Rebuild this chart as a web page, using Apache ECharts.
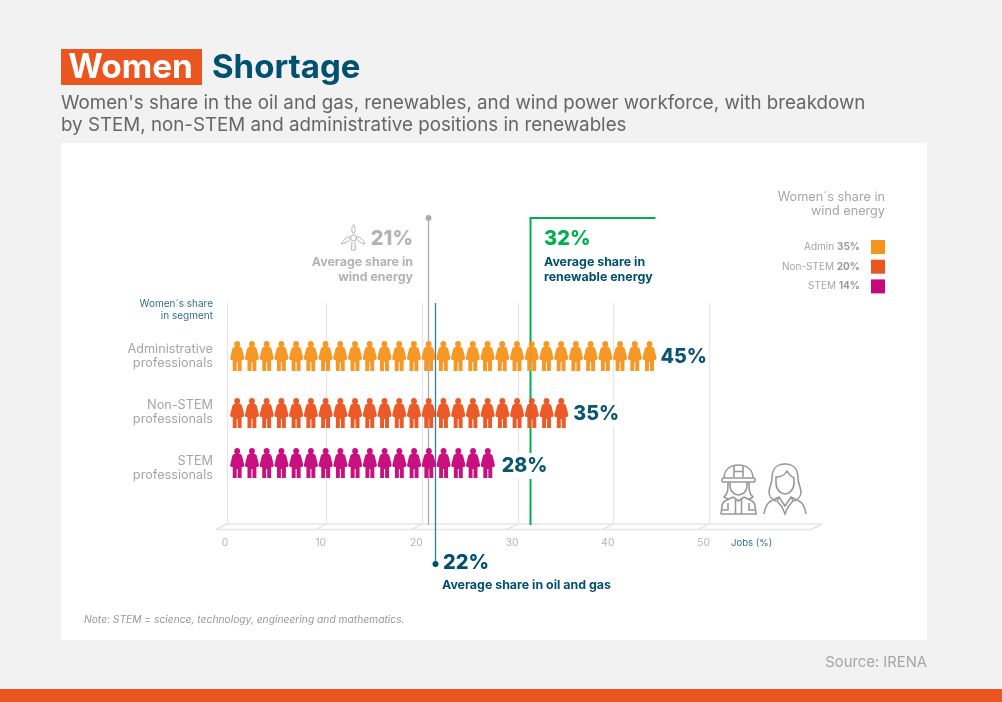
<!DOCTYPE html>
<html>
<head>
<meta charset="utf-8">
<title>Women Shortage</title>
<style>
  html, body { margin: 0; padding: 0; background: #f2f2f2; }
  #container { width: 1002px; height: 702px; }
</style>
<script src="https://cdn.jsdelivr.net/npm/echarts@6/dist/echarts.min.js"></script>
</head>
<body>
<div id="container"></div>
<script>
var categories = ['Administrative\nprofessionals', 'Non-STEM\nprofessionals', 'STEM\nprofessionals'];
var segmentShare = [45, 35, 28];
var figureCount = [29, 23, 18];
var xTicks = [0, 10, 20, 30, 40, 50];

var windAverage = 21;
var oilGasAverage = 22;
var renewableAverage = 32;

var windLabels = ['Admin', 'Non-STEM', 'STEM'];
var windShare = [35, 20, 14];

var BLUE = '#00506f', ORANGE = '#ea5520', AMBER = '#f7941e', MAGENTA = '#c6097a';
var GREEN = '#00b050', GREY = '#b3b3b3', WALL = '#e6e6e6';
var FONT = 'Inter, "Noto Sans", sans-serif';
var rowColors = [AMBER, ORANGE, MAGENTA];
var figureStep = 14.7 / 9.57; // one figure in axis units
var wallStops = [-0.42, 10, 20, 30, 40, 50, 61.8];

var myChart = echarts.init(document.getElementById('container'));

var figure = 'path://M14 0C17.5 0 20 2.6 20 6C20 8.6 19 10.4 17.5 11.6C21.5 12 23 13.5 24 16.5L28 33C28.5 36 27.5 38 25.5 38' +
  'L23 38L23 60L15 60L15 42L13 42L13 60L5 60L5 38L2.5 38C0.5 38 -0.5 36 0 33L4 16.5C5 13.5 6.5 12 10.5 11.6' +
  'C9 10.4 8 8.6 8 6C8 2.6 10.5 0 14 0Z';

function text(str, x, y, size, color, weight, align, extra) {
  var style = {
    text: str, x: x, y: y, fill: color,
    font: (extra && extra.italic ? 'italic ' : '') + (weight || 400) + ' ' + size + 'px ' + FONT,
    textAlign: align || 'left', textVerticalAlign: 'middle'
  };
  return {type: 'text', silent: true, z: 20, style: style};
}

var graphics = [
  {type: 'rect', silent: true, z: -10, shape: {x: 61, y: 143, width: 866, height: 497}, style: {fill: '#fff'}},
  {type: 'rect', silent: true, z: -10, shape: {x: 0, y: 689, width: 1002, height: 13}, style: {fill: ORANGE}},
  {type: 'rect', silent: true, z: -10, shape: {x: 61, y: 49, width: 141, height: 36}, style: {fill: ORANGE}},
  text('Women', 130.5, 68, 33.4, '#fff', 700, 'center'),
  text('Shortage', 212, 68, 33, BLUE, 700),
  text("Women's share in the oil and gas, renewables, and wind power workforce, with breakdown", 61, 103.5, 18.75, '#666'),
  text('by STEM, non-STEM and administrative positions in renewables', 61, 125, 18.75, '#666'),
  text(windAverage + '%', 413, 239, 20, GREY, 800, 'right'),
  text('Average share in', 413, 262, 12.4, GREY, 700, 'right'),
  text('wind energy', 413, 277, 12.4, GREY, 700, 'right'),
  text(renewableAverage + '%', 544, 239, 20, GREEN, 800),
  text('Average share in', 544, 262, 12.4, BLUE, 700),
  text('renewable energy', 544, 277, 12.4, BLUE, 700),
  text(oilGasAverage + '%', 443, 563, 20, BLUE, 800),
  text('Average share in oil and gas', 442, 585, 12.4, BLUE, 700),
  text('Women´s share', 213, 304, 10, '#33708c', 400, 'right'),
  text('in segment', 213, 315.5, 10, '#33708c', 400, 'right'),
  text('Jobs (%)', 731, 543, 9.6, '#33708c'),
  text('Women´s share in', 885, 197, 12.7, '#a6a6a6', 400, 'right'),
  text('wind energy', 885, 211.5, 12.7, '#a6a6a6', 400, 'right'),
  text('Note: STEM = science, technology, engineering and mathematics.', 84, 620, 10.25, '#999', 400, 'left', {italic: true}),
  text('Source: IRENA', 927, 662.5, 14.8, '#a6a6a6', 400, 'right')
];

windLabels.forEach(function (name, i) {
  var y = 247 + i * 19.7;
  graphics.push({
    type: 'text', silent: true, z: 20,
    style: {
      text: '{a|' + name + ' }{b|' + windShare[i] + '%}', x: 860, y: y,
      textAlign: 'right', textVerticalAlign: 'middle',
      rich: {
        a: {fontFamily: FONT, fontSize: 10, fill: '#a6a6a6', fontWeight: 400},
        b: {fontFamily: FONT, fontSize: 10, fill: '#999', fontWeight: 700}
      }
    }
  });
  graphics.push({type: 'rect', silent: true, z: 20, shape: {x: 871, y: y - 7, width: 14, height: 14}, style: {fill: rowColors[i]}});
});

// line from the axis position of an average, px nudge follows the printed artwork
function averageLine(value, color, top, bottom, nudge, dot, dotY, corner) {
  return {
    type: 'custom', xAxisIndex: 0, yAxisIndex: 0, z: 3, silent: true, clip: false,
    data: [[value, 0]],
    renderItem: function (params, api) {
      var x = Math.round(api.coord([api.value(0), 0])[0] + nudge) + 0.5;
      var kids = [];
      var pts = [[x, bottom], [x, top]];
      if (corner) pts.push([x + corner, top]);
      kids.push({type: 'polyline', shape: {points: pts}, style: {stroke: color, fill: null, lineWidth: corner ? 2 : 1.3}});
      if (dot) kids.push({type: 'circle', shape: {cx: x, cy: dotY, r: 3}, style: {fill: dot}});
      return {type: 'group', children: kids};
    }
  };
}

var iconPaths = [
  // worker
  {x: 720, y: 464, w: 1.6, c: '#999', d: 'M4 14C4 6 10 1 18.5 1C27 1 33 6 33 14M2.5 18Q0.5 14 4 14L33 14Q36.5 14 34.5 18ZM14 2V13M23 2V13M14 7.5H23' +
    'M10 18V22C10 27 14 31 18.5 31C23 31 27 27 27 22V18M8 18C8 25 8 30 4 33C6 35 9 35 12 34M29 18C29 25 29 30 33 33C31 35 28 35 25 34' +
    'M13 33L5 37Q2 39 2 42L1 50H36L35 42Q35 39 32 37L24 33M1 46H8V39M36 46H29V39M15.5 35V50M21.5 35V50M13 33L18.5 37L24 33'},
  // woman
  {x: 763, y: 463, w: 1.6, c: '#999', d: 'M22 1C12 1 9 8 9 15C9 21 6 24 6 29C6 34 10 37 13 38M22 1C32 1 35 8 35 15C35 21 38 24 38 29C38 34 34 37 31 38' +
    'M13 14C17 14 22 12 24 8C26 12 29 14 31 15V20C31 27 26 31 22 31C18 31 13 27 13 20ZM1 51C2 44 4 40 8 38L16 34L22 43L28 34L36 38C40 40 42 44 43 51' +
    'M16 34L14 38L19 44L22 51L25 44L30 38L28 34'},
  // turbine
  {x: 341, y: 224, w: 1, c: GREY, d: 'M12.5 10C10 8 10.5 3 12.5 0.5C14.5 3 15 8 12.5 10ZM9.5 15C7 18 3 19.5 0.5 20C1.5 17 5 12.5 9.5 13ZM15.5 15C18 18 21 19.5 24 20C23 17 20 12.5 15.5 13Z' +
    'M9.5 14A3 3 0 1 0 15.5 14A3 3 0 1 0 9.5 14ZM11 18L10.5 26H14.5L14 18'}
];

var series = [
  // floor of the chart, starts from the wall ticks
  {
    type: 'custom', xAxisIndex: 1, yAxisIndex: 1, z: 1, silent: true, clip: false,
    data: wallStops.map(function (v) { return [v, 0]; }),
    renderItem: function (params, api) {
      var p = api.coord([api.value(0), 0]);
      var next = params.dataIndex < wallStops.length - 1 ? api.coord([wallStops[params.dataIndex + 1], 0]) : null;
      var style = {stroke: WALL, lineWidth: 1.5, fill: null};
      var kids = [{type: 'line', shape: {x1: p[0], y1: p[1], x2: p[0] - 11, y2: p[1] + 5.5}, style: style}];
      if (next) kids.push({type: 'line', shape: {x1: p[0] - 11, y1: p[1] + 5.5, x2: next[0] - 11, y2: next[1] + 5.5}, style: style});
      return {type: 'group', children: kids};
    }
  },
  averageLine(windAverage, '#adadad', 218, 525, 2, '#adadad', 218),
  averageLine(oilGasAverage, '#2f7ea3', 303, 564, -1, BLUE, 564),
  averageLine(renewableAverage, GREEN, 218, 525, -1, null, 0, 125),
  {
    type: 'pictorialBar', xAxisIndex: 0, yAxisIndex: 0, z: 5, silent: true,
    symbol: figure, symbolSize: [14, 30], symbolPosition: 'start',
    data: segmentShare.map(function (v, i) {
      return {
        value: v,
        symbolRepeat: figureCount[i],
        symbolBoundingData: figureCount[i] * figureStep,
        symbolOffset: [5.2, [-0.5, 0.5, -5.5][i]],
        itemStyle: {color: rowColors[i], opacity: 0.97},
        label: {
          show: true, position: 'right', formatter: '{c}%',
          distance: [4, 5, 7][i], offset: [0, [0.5, 1.5, -2.5][i]],
          fontFamily: FONT, fontSize: 19.6, fontWeight: 800, color: BLUE,
          backgroundColor: '#fff', padding: [3, 0]
        }
      };
    })
  },
  {
    type: 'custom', xAxisIndex: 1, yAxisIndex: 1, z: 6, silent: true, clip: false,
    data: [[0, 0]],
    renderItem: function () {
      return {
        type: 'group',
        children: iconPaths.map(function (ic) {
          return {type: 'path', x: ic.x, y: ic.y, shape: {pathData: ic.d}, style: {fill: null, stroke: ic.c, lineWidth: ic.w}};
        })
      };
    }
  }
];

var option = {
  backgroundColor: '#f2f2f2',
  animation: false,
  textStyle: {fontFamily: FONT},
  graphic: {elements: graphics},
  grid: [
    {left: 225, width: 478.5, top: 328.5, height: 168},
    {left: 227, width: 595, top: 303, height: 221}
  ],
  xAxis: [
    {
      type: 'value', gridIndex: 0, min: 0, max: 50, interval: 10,
      axisLine: {show: false}, axisTick: {show: false}, splitLine: {show: false},
      axisLabel: {margin: 41.5, fontSize: 10.2, color: GREY, fontFamily: FONT}
    },
    {
      // back wall of the chart, printed slightly to the right of the labels
      type: 'value', gridIndex: 1, min: wallStops[0], max: wallStops[wallStops.length - 1],
      axisLine: {show: true, onZero: false, lineStyle: {color: WALL, width: 1.5}},
      axisTick: {show: false, customValues: [wallStops[0]].concat(xTicks.slice(1))},
      axisLabel: {show: false},
      splitLine: {show: true, lineStyle: {color: WALL, width: 1.3}}
    }
  ],
  yAxis: [
    {
      type: 'category', gridIndex: 0, inverse: true, data: categories,
      axisLine: {show: false}, axisTick: {show: false},
      axisLabel: {margin: 12, fontSize: 12.7, lineHeight: 14, color: '#a6a6a6', fontFamily: FONT, align: 'right'}
    },
    {type: 'value', gridIndex: 1, min: 0, max: 1, show: false}
  ],
  series: series
};

myChart.setOption(option, true);
</script>
</body>
</html>
